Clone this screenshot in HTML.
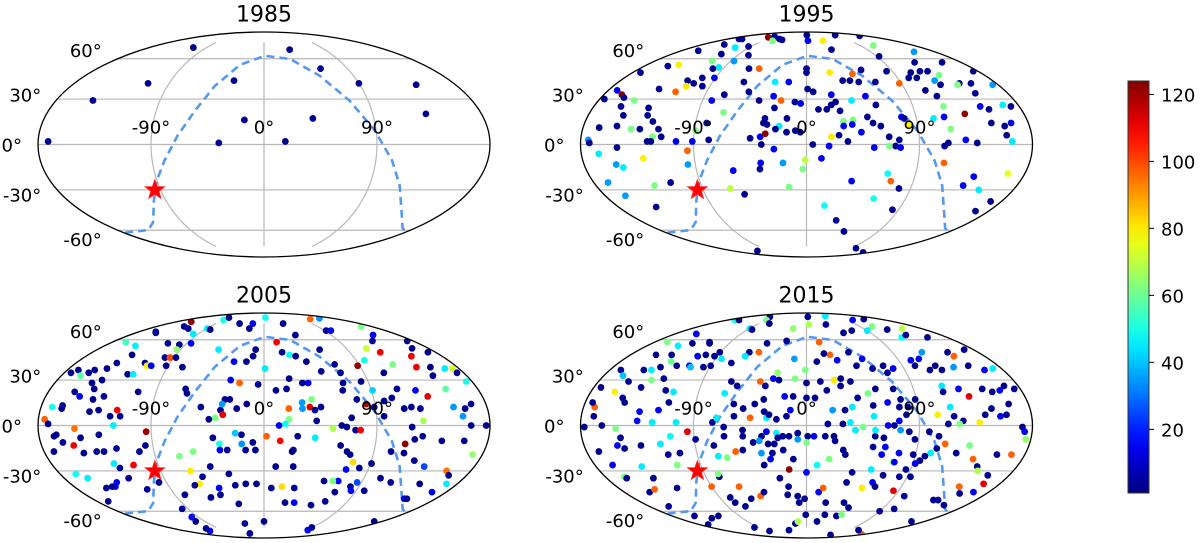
<!DOCTYPE html>
<html><head><meta charset="utf-8"><style>
html,body{margin:0;padding:0;background:#fff;}
svg{display:block;font-family:"DejaVu Sans","Liberation Sans",sans-serif;}
</style></head><body>
<svg id="fig" width="1200" height="543" viewBox="0 0 1200 543" xmlns="http://www.w3.org/2000/svg"></svg>
<script>
// ---- data ----
const years = ["1985","1995","2005","2015"];
const colorTicks = [20,40,60,80,100,120];
const colorMin = 1, colorMax = 124;
const lonTicks = [-90,0,90];
const latTicks = [60,30,0,-30,-60];
const starLon = -95, starLat = -30;
const planeLon = [-178,-142,-122,-101,-90,-80,-69,-57.6,-45.8,-27,1,32,56,74,89,103,116,141,165,180];
const planeLat = [-62,-59.8,-53.4,-37.2,-23.5,-10.3,5.8,22.2,39.3,55,62.5,59.8,46.6,28.9,9,-10.3,-26.9,-48,-58.2,-61.5];
const events1985 = [[-111,70,3],[38,68,3],[61,52,3],[-29,43,3],[-110,41,3],[90,41,3],[143,40,3],[-148,29,3],[134,20,3],[-16,16,3],[40,17,3],[-172,2,3],[-36,1,3],[17,2,3]];
const events1995 = [[-100,81,122],[-90,82,3],[-62,79,3],[-53,78,3],[-70,77,62],[1,84,3],[98,84,3],[164,83,3],[3,77,15],[34,77,80],[-143,73,3],[-155,79,3],[-148,79,3],[-112,70,45],[-94,71,3],[112,72,62],[-156,67,3],[-114,64,3],[-76,63,3],[37,68,3],[93,62,3],[151,66,35],[126,57,3],[158,57,3],[175,50,3],[-154,54,3],[-144,55,80],[-112,58,62],[-86,58,35],[-172,49,3],[-96,53,45],[-101,52,3],[-51,52,97],[-62,52,3],[0,52,3],[0,49,3],[24,49,80],[47,48,97],[58,51,3],[84,50,3],[108,49,3],[119,50,3],[127,50,3],[134,47,62],[101,45,3],[109,45,3],[124,43,35],[126,40,3],[145,41,3],[156,41,3],[142,40,62],[175,40,35],[151,34,3],[108,36,3],[115,32,3],[88,41,97],[35,43,3],[42,43,3],[50,42,3],[66,42,3],[-30,42,45],[-17,42,15],[-60,42,3],[-115,43,3],[-107,41,3],[-103,45,3],[-97,39,3],[-91,45,15],[-112,39,80],[-135,37,3],[-118,35,97],[-172,36,15],[-164,33,122],[-176,30,3],[-160,31,3],[-149,29,62],[-157,25,3],[-133,24,3],[-131,19,3],[-151,19,3],[-167,11,3],[-153,12,3],[-141,10,62],[-134,10,3],[-125,15,3],[-119,10,3],[-123,5,62],[-116,5,3],[-127,2,3],[-124,2,3],[-104,2,15],[-174,3,35],[-173,1,3],[-82,29,15],[-73,33,3],[-69,21,62],[-52,35,3],[-41,29,3],[-29,32,15],[-22,29,97],[-27,24,3],[-10,28,3],[-5,27,15],[1,37,3],[6,35,3],[10,23,3],[17,23,3],[21,26,3],[22,33,15],[25,28,3],[28,22,3],[39,29,45],[52,32,15],[59,26,3],[50,18,3],[78,18,15],[80,17,3],[82,13,80],[116,25,62],[113,18,15],[104,17,45],[116,10,62],[131,20,122],[147,25,15],[153,23,3],[167,26,45],[150,14,3],[160,12,3],[166,14,15],[160,6,3],[164,2,45],[127,3,15],[136,1,3],[113,1,3],[110,-1,3],[173,25,3],[30,15,62],[38,16,62],[30,12,15],[37,13,15],[54,14,3],[60,12,3],[44,8,15],[26,6,3],[20,5,80],[66,5,3],[74,3,3],[71,-1,3],[66,-1,62],[54,-2,15],[75,-2,15],[33,2,3],[18,-1,15],[5,0,3],[-5,8,3],[-9,9,3],[-16,8,3],[-16,17,3],[-22,12,45],[-25,10,3],[-34,17,3],[-32,13,3],[-35,14,3],[-37,5,15],[-33,7,122],[-36,0,3],[-45,4,3],[-26,-3,15],[-37,-12,15],[-38,-16,3],[-19,-12,35],[-60,-17,15],[-78,3,3],[-89,9,62],[-95,-4,97],[-96,-13,35],[-81,14,3],[-91,2,15],[-166,-6,45],[-154,-13,35],[-149,-15,45],[-131,-9,80],[-151,-2,3],[-168,-25,35],[-162,-34,35],[-130,-27,62],[-115,-25,3],[-144,-42,3],[-66,-29,70],[-55,-33,3],[-15,-28,62],[-1,-10,70],[-3,-16,62],[12,-9,15],[17,-41,48],[32,-52,3],[47,-61,3],[38,-24,15],[67,-19,48],[71,-24,97],[80,-29,3],[61,-36,50],[84,-44,3],[111,-12,97],[139,-21,15],[134,-27,15],[150,-30,45],[166,-19,75],[170,-38,3],[167,-45,3],[-120,-80,3],[102,-77,3],[160,-82,3]];
const events2005 = [[-150,77,122],[-134,72,3],[-89,70,45],[-82,69,3],[-119,70,3],[-93,79,50],[-99,82,3],[-46,75,3],[-21,75,15],[-23,70,3],[4,82,50],[36,75,3],[113,80,97],[145,81,35],[92,68,3],[99,68,15],[163,72,62],[-156,67,3],[-152,66,3],[-97,65,45],[-164,58,55],[-145,55,45],[-112,57,3],[-97,56,3],[-85,57,15],[-94,52,65],[-141,42,3],[-145,38,3],[-155,37,3],[-170,37,3],[-174,35,3],[-163,33,58],[-158,35,3],[-135,48,3],[-114,42,3],[-110,40,80],[-106,40,15],[-122,34,3],[-117,34,45],[-99,46,3],[-94,46,100],[-92,40,3],[-88,46,3],[-148,28,3],[-141,30,3],[-143,24,3],[-158,22,3],[-152,19,15],[-140,17,3],[-132,19,3],[-140,9,3],[-133,10,3],[-171,12,50],[-163,13,3],[-163,11,3],[-175,4,97],[-172,1,3],[-105,22,3],[-118,10,110],[-123,6,3],[-115,6,3],[-120,0,45],[-151,-2,95],[-94,-4,120],[-168,-7,3],[-166,-6,3],[-162,-11,3],[-147,-8,3],[-132,-6,3],[-154,-13,110],[-172,-17,3],[-148,-18,3],[-137,-17,3],[-131,-17,3],[-120,-15,3],[-96,-13,3],[-102,-17,3],[-127,-25,45],[-124,-28,3],[-111,-26,110],[-166,-32,48],[-159,-35,45],[-136,-38,15],[-141,-41,15],[-144,-41,3],[-151,-42,3],[-122,-35,3],[-113,-43,3],[-168,-52,3],[-97,-38,3],[-70,-20,62],[-58,-17,62],[-64,-30,80],[-60,-39,80],[-65,-40,3],[-46,-27,3],[-55,-34,3],[-41,-8,3],[-35,10,3],[-33,7,112],[-39,5,62],[-44,4,3],[-51,12,3],[-64,21,3],[-66,24,3],[-76,39,3],[-49,52,45],[-29,43,15],[-17,43,3],[-11,47,3],[-9,52,3],[-29,30,15],[-21,28,97],[-32,17,3],[-28,17,3],[-22,11,3],[-14,14,3],[-34,14,35],[-5,27,3],[1,38,45],[10,23,3],[19,24,3],[22,31,3],[15,58,110],[19,50,3],[26,48,48],[32,47,3],[42,64,3],[38,28,15],[31,15,35],[31,11,35],[39,17,62],[37,12,112],[41,10,3],[46,12,3],[20,11,97],[20,4,62],[17,1,48],[12,0,15],[42,3,3],[2,-7,97],[13,-10,110],[24,-16,3],[41,-8,45],[27,-7,3],[-18,-6,3],[-23,-5,40],[-18,-12,35],[-36,-12,50],[-36,-16,15],[-30,-16,3],[-9,-11,3],[-7,-16,3],[-15,-16,3],[23,-17,3],[10,-27,3],[25,-27,3],[29,-42,3],[17,-41,82],[7,-42,3],[-7,-39,3],[-17,-39,3],[-27,-40,3],[-31,-32,3],[-43,-42,15],[-44,-47,3],[-55,-49,3],[-80,-47,3],[-97,-58,3],[-99,-65,15],[-104,-69,3],[-124,-79,15],[-114,-76,3],[-28,-54,3],[-31,-71,3],[-40,-82,3],[0,-69,3],[23,-53,3],[33,-53,15],[53,-55,3],[90,-75,3],[95,-78,15],[168,-69,3],[70,-45,3],[66,-52,3],[82,-41,3],[85,-44,15],[68,-37,15],[55,-37,3],[63,-37,62],[86,-38,25],[98,-44,3],[105,-35,3],[117,-38,3],[147,-50,15],[150,-50,3],[145,-39,3],[166,-45,15],[159,-30,95],[164,-33,3],[170,-39,45],[68,-17,3],[71,-19,3],[71,-29,15],[75,-24,82],[82,-28,3],[91,-25,3],[104,-17,3],[114,-12,122],[115,-18,3],[126,-23,3],[137,-27,25],[143,-10,3],[172,-19,65],[161,-10,3],[121,-9,3],[127,-7,3],[62,-13,3],[73,-3,3],[77,-3,110],[62,0,3],[55,-2,68],[70,5,3],[66,-1,3],[83,14,118],[76,17,3],[89,12,3],[96,6,3],[98,16,3],[105,18,3],[113,11,3],[126,11,3],[119,12,3],[127,3,68],[118,-1,3],[153,12,35],[159,6,35],[165,0,3],[177,0,3],[162,11,3],[168,14,3],[175,29,50],[153,24,58],[135,19,112],[127,23,15],[112,24,3],[150,33,3],[155,39,3],[167,38,45],[174,38,72],[174,35,3],[142,39,110],[149,47,110],[162,53,3],[172,50,3],[173,59,3],[122,50,110],[112,53,72],[131,59,3],[146,64,15],[98,44,50],[88,40,122],[122,41,62],[108,35,3],[84,29,3],[91,23,42],[67,41,3],[69,35,3],[66,23,3],[68,28,3],[52,36,3],[41,43,3],[60,52,3],[33,28,3]];
const events2015 = [[-113,83,3],[-92,79,62],[-70,75,3],[-165,79,50],[-155,79,3],[-89,70,45],[-83,69,3],[4,83,3],[64,84,45],[4,74,68],[35,74,3],[106,79,15],[140,80,3],[110,72,62],[90,68,45],[123,69,3],[150,70,70],[122,62,48],[133,64,3],[155,62,3],[67,68,3],[52,66,3],[15,58,97],[-21,70,65],[-24,59,3],[-46,57,3],[-50,50,97],[-60,50,3],[-62,47,45],[-72,42,3],[-113,57,3],[-151,65,15],[-133,57,3],[-115,58,3],[-145,55,45],[-165,58,62],[-154,48,3],[-138,48,3],[-131,43,60],[-122,40,3],[-110,40,15],[-110,47,15],[-103,48,3],[-93,47,3],[-91,50,3],[-84,45,45],[-90,40,3],[-96,39,3],[-108,39,40],[-136,39,3],[-142,37,45],[-149,37,3],[-170,37,3],[-163,33,40],[-154,29,3],[-140,25,3],[-151,18,3],[-148,15,3],[-160,22,80],[-174,25,3],[-135,30,62],[-125,31,3],[-118,23,3],[-111,22,45],[-112,15,3],[-119,10,15],[-134,9,15],[-135,3,15],[-123,2,45],[-104,2,45],[-171,12,97],[-174,15,3],[-170,6,3],[-177,-1,3],[-163,0,3],[-152,-2,62],[-149,-8,3],[-153,-13,15],[-148,-15,3],[-170,-17,3],[-165,-26,15],[-141,-27,45],[-163,-34,62],[-162,-35,3],[-138,-35,3],[-155,-45,3],[-147,-43,97],[-134,-13,3],[-118,-12,45],[-109,-7,48],[-114,-19,3],[-104,-18,3],[-95,-4,112],[-89,-9,3],[-110,-26,62],[-124,-42,3],[-158,-56,3],[-150,-64,3],[-133,-66,3],[-118,-64,3],[-165,-72,3],[-78,-34,3],[-73,-20,45],[-66,-21,62],[-58,-17,97],[-78,-32,62],[-90,-41,97],[-64,-41,97],[-79,-49,3],[-78,-53,3],[-70,-56,3],[-58,-50,3],[-47,-48,97],[-42,-45,3],[-98,-75,3],[-85,-79,3],[-38,-78,3],[-18,-71,3],[-13,-69,68],[-1,-63,3],[16,-69,3],[24,-63,3],[82,-84,3],[40,-64,3],[46,-63,62],[49,-57,3],[41,-53,3],[21,-53,3],[12,-45,15],[16,-42,97],[-2,-50,3],[-9,-48,3],[-8,-53,3],[-17,-41,3],[-19,-47,3],[-24,-35,3],[-15,-29,122],[-11,-22,3],[0,-31,15],[9,-26,48],[19,-22,62],[32,-19,3],[40,-31,3],[53,-42,80],[37,-38,3],[61,-38,15],[68,-33,3],[56,-29,45],[85,-44,112],[100,-48,3],[93,-34,3],[83,-34,3],[73,-24,62],[95,-23,3],[102,-18,45],[98,-20,3],[106,-15,3],[112,-12,97],[123,-18,3],[132,-13,62],[139,-22,97],[146,-27,3],[157,-19,3],[169,-19,97],[161,-33,3],[149,-30,68],[165,-39,112],[165,-45,15],[145,-41,97],[153,-46,3],[140,-51,3],[155,-55,3],[135,-51,3],[160,-69,3],[170,-83,97],[113,-78,3],[90,-60,3],[104,-58,3],[65,-41,3],[86,-29,3],[74,-24,15],[92,-25,15],[88,-19,3],[76,-18,15],[64,-14,15],[62,-19,15],[54,-14,3],[62,-8,3],[55,-7,3],[65,0,15],[75,-3,35],[70,0,3],[55,-3,45],[45,-1,62],[39,-3,45],[35,2,45],[29,1,3],[17,1,3],[22,-7,3],[23,-10,3],[30,-16,3],[15,-7,3],[6,-7,15],[1,-7,3],[0,-11,62],[-7,-5,3],[-7,-9,35],[-14,-7,3],[-19,-7,3],[-24,-5,45],[-23,-8,3],[-32,-4,15],[-36,-7,3],[-43,-11,3],[-38,-10,35],[-31,-12,3],[-26,-12,3],[-28,-18,3],[-37,-18,35],[-30,-22,15],[-36,-26,3],[-19,-16,3],[-51,-3,3],[-51,-7,3],[-52,-16,3],[-66,-7,3],[-75,2,3],[-75,-13,3],[-66,-1,3],[-72,5,45],[-68,21,45],[-65,29,3],[-59,26,3],[-59,14,3],[-51,11,3],[-58,6,3],[-45,5,97],[-42,14,3],[-35,17,3],[-34,9,3],[-32,5,45],[-30,7,3],[-24,4,3],[-16,6,3],[-13,10,15],[-11,19,3],[-18,19,15],[-24,30,3],[-29,31,15],[-35,26,3],[-40,29,97],[-26,35,65],[-10,31,62],[-1,37,62],[0,18,3],[7,18,3],[0,28,3],[12,29,3],[24,30,80],[30,31,3],[38,29,3],[29,26,3],[17,23,3],[21,10,35],[31,10,3],[37,12,45],[42,18,3],[51,21,62],[58,24,3],[54,13,3],[54,6,45],[66,15,15],[73,24,3],[77,17,3],[75,12,3],[82,12,3],[80,7,3],[89,17,3],[73,35,3],[80,38,15],[72,40,3],[61,38,3],[47,40,3],[55,45,15],[30,44,15],[44,50,3],[24,48,97],[18,49,3],[10,43,3],[-12,45,35],[102,40,3],[113,37,3],[121,40,3],[124,37,3],[149,47,97],[137,39,35],[152,40,3],[163,37,15],[172,38,45],[170,52,3],[148,50,3],[121,50,35],[111,45,15],[102,44,15],[115,26,45],[114,22,3],[128,24,15],[134,19,112],[148,24,3],[155,22,3],[162,23,15],[168,26,3],[175,24,3],[116,12,45],[118,6,3],[125,3,3],[138,2,80],[143,7,3],[149,11,3],[155,6,15],[160,7,3],[164,14,3],[172,-1,3],[174,-4,15],[176,-9,65],[105,7,80],[113,1,3],[122,1,62],[98,-4,3],[106,-7,3],[82,-4,3],[87,-9,3],[74,3,15]];
const allEvents = [events1985, events1995, events2005, events2015];

// ---- layout ----
const A = 226, B = 112.5;
const centers = [[264,144.5],[806.5,144.5],[264,425.5],[806.5,425.5]];
const NS = "http://www.w3.org/2000/svg";
const svg = document.getElementById('fig');
function el(tag, attrs, parent){const e=document.createElementNS(NS,tag);for(const k in attrs)e.setAttribute(k,attrs[k]);(parent||svg).appendChild(e);return e;}
function theta(lat){const p=lat*Math.PI/180;if(Math.abs(lat)>=90)return Math.sign(lat)*Math.PI/2;let t=p;for(let i=0;i<30;i++){const f=2*t+Math.sin(2*t)-Math.PI*Math.sin(p);t-=f/(2+2*Math.cos(2*t));}return t;}
function proj(c,lon,lat){const t=theta(lat);return [c[0]+A*(lon/180)*Math.cos(t), c[1]-B*Math.sin(t)];}
function jet(v){let t=(v-colorMin)/(colorMax-colorMin);t=Math.max(0,Math.min(1,t));const cl=x=>Math.round(255*Math.max(0,Math.min(1,x)));return `rgb(${cl(1.5-Math.abs(4*t-3))},${cl(1.5-Math.abs(4*t-2))},${cl(1.5-Math.abs(4*t-1))})`;}

const defs = el('defs',{});
centers.forEach((c,i)=>{
  const cp = el('clipPath',{id:'clip'+i},defs);
  el('ellipse',{cx:c[0],cy:c[1],rx:A,ry:B},cp);
});

centers.forEach((c,i)=>{
  const g = el('g',{});
  
  
  const title = el('text',{x:c[0],y:c[1]-123,'text-anchor':'middle','font-size':22,fill:'#000'},g);
  title.textContent = years[i];
  
  
  const grid = el('g',{stroke:'#b8b8b8','stroke-width':1.2,fill:'none'},g);
  
  
  latTicks.forEach(lt=>{
    const l=proj(c,-180,lt), r=proj(c,180,lt);
    el('line',{x1:l[0],y1:l[1],x2:r[0],y2:r[1]},grid);
  });
  lonTicks.forEach(ln=>{
    let d='';
    for(let la=-75;la<=75;la+=2.5){const p=proj(c,ln,la);d+=(d?'L':'M')+p[0].toFixed(2)+' '+p[1].toFixed(2);}
    el('path',{d:d},grid);
  });
  let d='';
  planeLon.forEach((ln,k)=>{const p=proj(c,ln,planeLat[k]);d+=(k?'L':'M')+p[0].toFixed(2)+' '+p[1].toFixed(2);});
  const curve = el('path',{d:d,fill:'none',stroke:'#5599ee','stroke-width':2.6,'stroke-dasharray':'8 5','clip-path':'url(#clip'+i+')'},g);
  
  
  const pts = el('g',{'clip-path':'url(#clip'+i+')'},g);
  
  
  allEvents[i].forEach(e=>{
    const p=proj(c,e[0],e[1]);
    const dot=el('circle',{cx:p[0].toFixed(2),cy:p[1].toFixed(2),r:3.4,fill:jet(e[2])},pts);
    
    
  });
  const s=proj(c,starLon,starLat);let sd='';
  for(let k=0;k<10;k++){const rr=k%2?4.3:10.5;const an=-Math.PI/2+k*Math.PI/5;sd+=(k?'L':'M')+(s[0]+rr*Math.cos(an)).toFixed(2)+' '+(s[1]+rr*Math.sin(an)).toFixed(2);}
  const star=el('path',{d:sd+'Z',fill:'#ff0000',stroke:'#ff3030','stroke-width':0.8},g);
  
  
  const fr=el('ellipse',{cx:c[0],cy:c[1],rx:A,ry:B,fill:'none',stroke:'#000','stroke-width':1.3},g);
  
  
  lonTicks.forEach(ln=>{
    const p=proj(c,ln,0);
    const t=el('text',{x:p[0],y:p[1]-11,'text-anchor':'middle','font-size':18,fill:'#000'},g);
    t.textContent=ln+'°';
    
    
  });
  latTicks.forEach(lt=>{
    const th=theta(lt);
    const t=el('text',{x:c[0]-(A*Math.cos(th)+16),y:c[1]-B*Math.sin(th)*1.1+7,'text-anchor':'end','font-size':18,fill:'#000'},g);
    t.textContent=lt+'°';
    
    
  });
});

const cb = el('g',{});


const lg = el('linearGradient',{id:'jetg',x1:0,y1:1,x2:0,y2:0},defs);
for(let k=0;k<=20;k++){el('stop',{offset:(k/20),'stop-color':jet(colorMin+k/20*(colorMax-colorMin))},lg);}
const cbTop=81, cbBot=493, cbX=1128, cbW=21;
el('rect',{x:cbX,y:cbTop,width:cbW,height:cbBot-cbTop,fill:'url(#jetg)',stroke:'#333','stroke-width':1},cb);
function cbY(v){return cbBot-(v-colorMin)/(colorMax-colorMin)*(cbBot-cbTop);}
colorTicks.forEach(v=>{
  const y=cbY(v);
  el('line',{x1:cbX+cbW,x2:cbX+cbW+5,y1:y,y2:y,stroke:'#000','stroke-width':1},cb);
  const t=el('text',{x:cbX+cbW+12,y:y+7,'font-size':18,fill:'#000'},cb);
  t.textContent=v;
  
  
});
</script>
</body></html>
